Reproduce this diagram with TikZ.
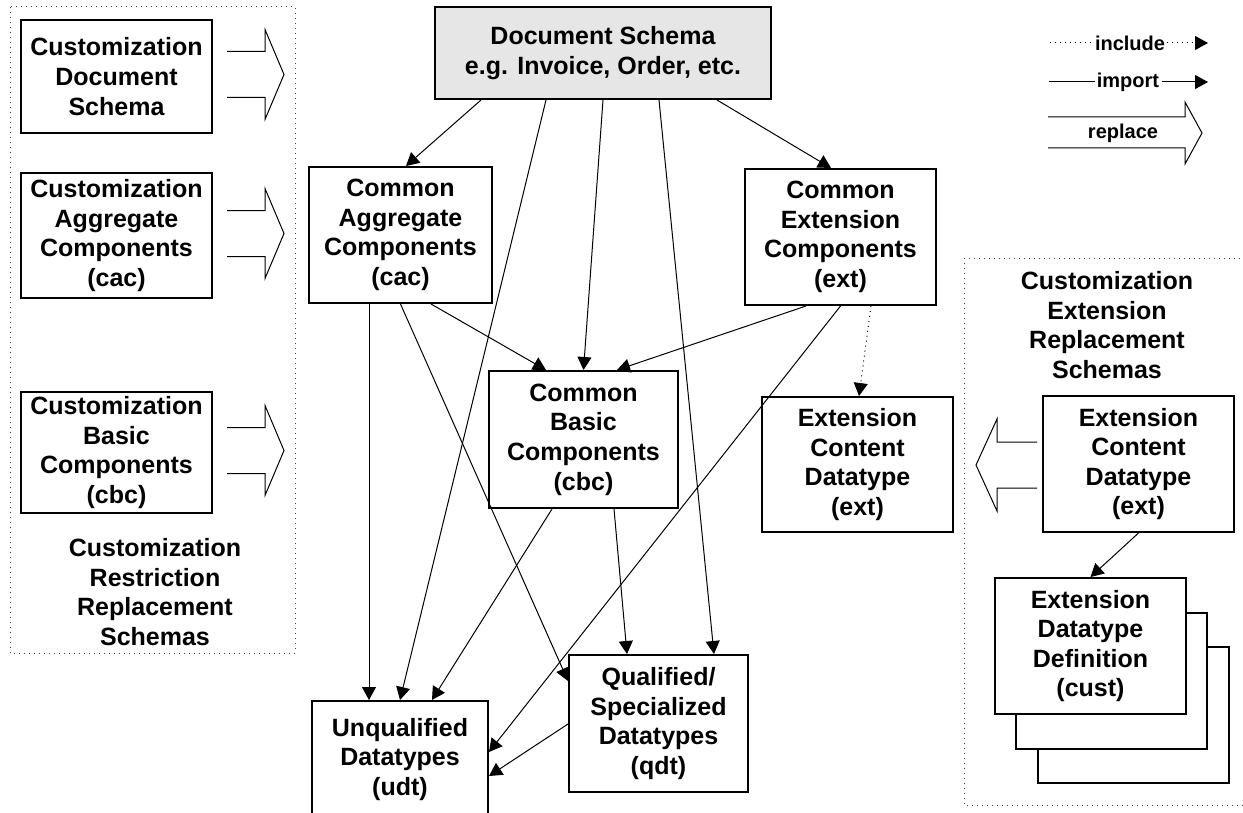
\documentclass[tikz,border=0pt]{standalone}
\usepackage{fontspec}
\setmainfont{Liberation Sans}
\usetikzlibrary{arrows.meta,calc}
\definecolor{docgray}{RGB}{230,230,230}
\begin{document}
\begin{tikzpicture}[x=0.5pt,y=-0.5pt,
  box/.style={draw, line width=1pt, fill=white, align=center, inner sep=0pt,
    font=\bfseries\fontsize{12.5}{14.8}\selectfont},
  lbl/.style={align=center, inner sep=0pt, font=\bfseries\fontsize{12.5}{14.8}\selectfont},
  lgd/.style={inner sep=1pt, font=\bfseries\fontsize{10}{12}\selectfont},
  imp/.style={line width=0.5pt, -{Triangle[length=6.5pt,width=7pt]}},
  incl/.style={imp, dotted},
  repl/.style={line width=0.5pt, line join=miter},
  cont/.style={draw=black!75, dotted, line width=0.5pt}]
\useasboundingbox (0,0) rectangle (1243,813);

% containers
\draw[cont] (10,7) rectangle (295,653);
\draw[cont] (964,258) rectangle (1260,805);

% left customization boxes
\node[box, minimum width=95.5pt, minimum height=56.5pt] (cds) at (116.5,76.5) {Customization\\Document\\Schema};
\node[box, minimum width=95.5pt, minimum height=62.5pt] (cagg) at (116.5,235.5) {Customization\\Aggregate\\Components\\(cac)};
\node[box, minimum width=95.5pt, minimum height=60.5pt] (cbas) at (116.5,452.5) {Customization\\Basic\\Components\\(cbc)};
\node[lbl] (restr) at (155,592) {Customization\\Restriction\\Replacement\\Schemas};

% replace arrows (left)
\foreach \n in {cds,cagg,cbas}{
  \draw[repl] ($(\n.east)+(14,-25)$) -- ++(38,0) -- ++(0,-22) -- ++(19,45) -- ++(-19,45) -- ++(0,-22) -- ++(-38,0);
}

% main boxes
\node[box, fill=docgray, minimum width=168pt, minimum height=46pt] (doc) at (603,53) {Document Schema\\e.g. Invoice, Order, etc.};
\node[box, minimum width=91.5pt, minimum height=68pt] (cac) at (400.5,235) {Common\\Aggregate\\Components\\(cac)};
\node[box, minimum width=95.5pt, minimum height=68pt] (ext) at (840.5,237) {Common\\Extension\\Components\\(ext)};
\node[box, minimum width=94.5pt, minimum height=68.5pt] (cbc) at (583.5,439.5) {Common\\Basic\\Components\\(cbc)};
\node[box, minimum width=95.5pt, minimum height=67.5pt] (ecd) at (857.5,464.5) {Extension\\Content\\Datatype\\(ext)};
\node[box, minimum width=89.5pt, minimum height=68.5pt] (qdt) at (658.5,723.5) {Qualified/\\Specialized\\Datatypes\\(qdt)};
\node[box, minimum width=88pt, minimum height=58.5pt] (udt) at (400,759.5) {Unqualified\\Datatypes\\(udt)};

% right customization
\node[lbl] (extrepl) at (1107,325) {Customization\\Extension\\Replacement\\Schemas};
\node[box, minimum width=95.5pt, minimum height=68pt] (recd) at (1138.5,464) {Extension\\Content\\Datatype\\(ext)};
\node[box, minimum width=95.5pt, minimum height=68pt] (edd3) at (1133.5,714.5) {};
\node[box, minimum width=95.5pt, minimum height=68pt] (edd2) at (1111,680.5) {};
\node[box, minimum width=95.5pt, minimum height=68pt] (edd1) at (1090.5,646) {Extension\\Datatype\\Definition\\(cust)};

% replace arrow (right, pointing left)
\draw[repl] ($(recd.west)+(-5,-22)$) -- ++(-40,0) -- ++(0,-23) -- ++(-21,46) -- ++(21,46) -- ++(0,-23) -- ++(40,0);

% connectors
\draw[imp] ($(doc.south west)+(47,0)$) -- ($(cac.north west)+(98,0)$);
\draw[imp] ($(doc.south west)+(112,0)$) -- (udt.north);
\draw[imp] (doc.south) -- (cbc.north);
\draw[imp] ($(doc.south west)+(225,0)$) -- ($(qdt.north west)+(146,0)$);
\draw[imp] ($(doc.south west)+(283,0)$) -- ($(ext.north west)+(87,0)$);
\draw[imp] ($(cac.south west)+(61,0)$) -- ($(udt.north west)+(58,0)$);
\draw[imp] (cac.south) -- ($(qdt.north west)+(0,27)$);
\draw[imp] ($(cac.south west)+(123,0)$) -- ($(cbc.north west)+(58,0)$);
\draw[imp] ($(ext.south west)+(62,0)$) -- ($(cbc.north west)+(129,0)$);
\draw[imp] (ext.south) -- ($(udt.north east)+(0,52)$);
\draw[incl] ($(ext.south west)+(127,0)$) -- ($(ecd.north west)+(98,0)$);
\draw[imp] ($(cbc.south west)+(64,0)$) -- ($(udt.north west)+(121,0)$);
\draw[imp] ($(cbc.south west)+(126,0)$) -- ($(qdt.north west)+(59,0)$);
\draw[imp] ($(qdt.north west)+(0,70)$) -- ($(udt.north east)+(0,76)$);
\draw[imp] (recd.south) -- (edd1.north);

% legend
\node[lgd] (lginc) at (1130,43) {include};
\coordinate (li0) at (1050,43);
\coordinate (li1) at (1208,43);
\draw[line width=0.5pt, dotted] (li0) -- (lginc.west);
\draw[incl] (lginc.east) -- (li1);
\node[lgd] (lgimp) at (1128,82) {import};
\coordinate (lm0) at (1049,82);
\coordinate (lm1) at (1208,82);
\draw[line width=0.5pt] (lm0) -- (lgimp.west);
\draw[imp] (lgimp.east) -- (lm1);
\draw[repl] (1048,117) -- (1185,117) -- (1185,102) -- (1202,133) -- (1185,164) -- (1185,148) -- (1048,148);
\node[lgd] (lgrep) at (1123,133) {replace};
\end{tikzpicture}
\end{document}
